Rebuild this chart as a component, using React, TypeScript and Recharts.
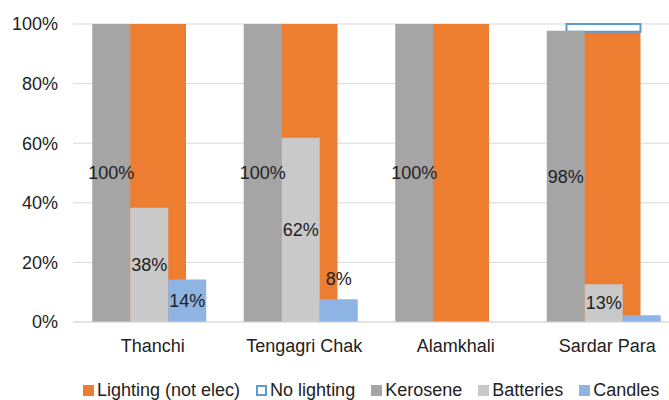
import { BarChart, Bar, XAxis, YAxis, CartesianGrid, Legend, LabelList } from 'recharts';

const categories = ['Thanchi', 'Tengagri Chak', 'Alamkhali', 'Sardar Para'];
const lighting = [100, 100, 100, 97.4];
const noLighting = [0, 0, 0, 2.6];
const kerosene = [100, 100, 100, 97.7];
const batteries = [38.3, 61.8, 0, 12.7];
const candles = [14.3, 7.6, 0, 2.3];
const yTicks = [0, 20, 40, 60, 80, 100];

const FONT = '"Liberation Sans", Arial, sans-serif';
const TEXT = '#222';

const COLORS = {
  lighting: '#ED7D31',
  noLighting: '#5B9BD5',
  kerosene: '#A5A5A5',
  batteries: '#C9C9C9',
  candles: '#8EB4E3',
};

const data = categories.map((name, i) => ({
  name,
  lighting: lighting[i],
  // floating bar sitting on top of the lighting share
  noLighting: [lighting[i], lighting[i] + noLighting[i]],
  kerosene: kerosene[i],
  batteries: batteries[i],
  candles: candles[i],
}));

const legendItems = [
  { label: 'Lighting (not elec)', fill: COLORS.lighting, border: COLORS.lighting },
  { label: 'No lighting', fill: '#fff', border: COLORS.noLighting },
  { label: 'Kerosene', fill: COLORS.kerosene, border: COLORS.kerosene },
  { label: 'Batteries', fill: COLORS.batteries, border: COLORS.batteries },
  { label: 'Candles', fill: COLORS.candles, border: COLORS.candles },
];

function ValueLabel(props: any) {
  const { x, y, width, height, value } = props;
  if (value == null || value < 5) return null;
  const cx = x + width / 2;
  // short bars get their label just above
  const cy = height < 30 ? y - 21 : y + height / 2;
  return (
    <text x={cx} y={cy} dy="0.355em" textAnchor="middle" fontSize={18} fontFamily={FONT} fill={TEXT}>
      {Math.round(value)}%
    </text>
  );
}

function LegendRow() {
  return (
    <div style={{ display: 'flex', whiteSpace: 'nowrap', fontFamily: FONT, fontSize: 18, lineHeight: '20px', color: TEXT }}>
      {legendItems.map((item) => (
        <div key={item.label} style={{ display: 'flex', alignItems: 'center', marginRight: 16 }}>
          <span
            style={{
              display: 'inline-block',
              width: 11,
              height: 11,
              boxSizing: 'border-box',
              background: item.fill,
              border: `2px solid ${item.border}`,
              marginRight: 3,
            }}
          />
          <span>{item.label}</span>
        </div>
      ))}
    </div>
  );
}

export default function App() {
  return (
    <div style={{ position: 'fixed', left: 0, top: 0, width: 669, height: 400, overflow: 'hidden', background: '#fff' }}>
      <BarChart
        width={700}
        height={400}
        data={data}
        margin={{ top: 24, right: 21, bottom: 38, left: 0 }}
        barGap={0}
        barCategoryGap="12.7%"
      >
        <CartesianGrid xAxisId="main" vertical={false} stroke="#D9D9D9" />
        <XAxis
          xAxisId="main"
          dataKey="name"
          interval={0}
          tickLine={false}
          tickSize={0}
          tickMargin={17}
          height={40}
          axisLine={{ stroke: '#D9D9D9' }}
          tick={{ fontSize: 18, fill: TEXT, fontFamily: FONT, dx: 4 }}
        />
        <XAxis xAxisId="lit" dataKey="name" hide height={0} axisLine={false} tick={false} padding={{ left: 9, right: -9 }} />
        <XAxis xAxisId="nl" dataKey="name" hide height={0} axisLine={false} tick={false} />
        <YAxis
          domain={[0, 100]}
          ticks={yTicks}
          tickFormatter={(v) => `${v}%`}
          axisLine={false}
          tickLine={false}
          tickSize={0}
          tickMargin={15}
          width={73}
          tick={{ fontSize: 18, fill: TEXT, fontFamily: FONT }}
        />
        <Legend verticalAlign="middle" align="center" layout="horizontal" content={() => <LegendRow />} wrapperStyle={{ left: 83, top: 380, width: 660 }} />
        <Bar xAxisId="lit" dataKey="lighting" fill={COLORS.lighting} barSize={57} isAnimationActive={false} />
        <Bar xAxisId="nl" dataKey="noLighting" fill="#fff" stroke={COLORS.noLighting} strokeWidth={2} barSize={74} isAnimationActive={false} />
        <Bar xAxisId="main" dataKey="kerosene" fill={COLORS.kerosene} isAnimationActive={false}>
          <LabelList dataKey="kerosene" content={<ValueLabel />} />
        </Bar>
        <Bar xAxisId="main" dataKey="batteries" fill={COLORS.batteries} isAnimationActive={false}>
          <LabelList dataKey="batteries" content={<ValueLabel />} />
        </Bar>
        <Bar xAxisId="main" dataKey="candles" fill={COLORS.candles} isAnimationActive={false}>
          <LabelList dataKey="candles" content={<ValueLabel />} />
        </Bar>
      </BarChart>
    </div>
  );
}
